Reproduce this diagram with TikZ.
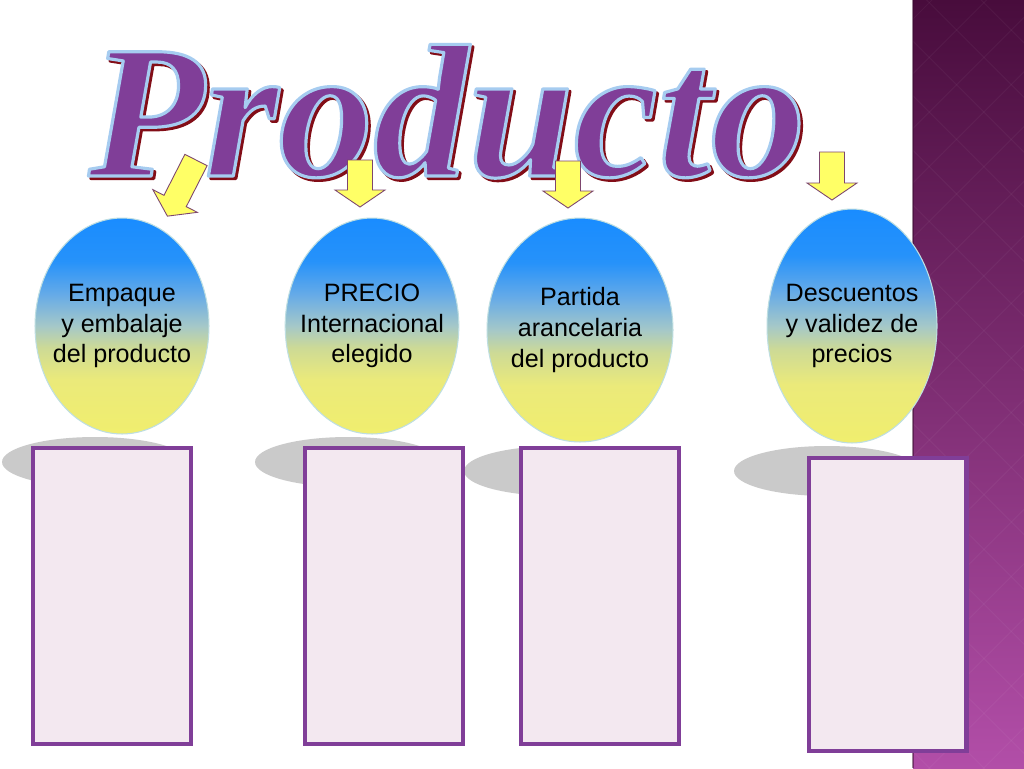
\documentclass[tikz,border=0pt]{standalone}
\usepackage{fontspec}
\setmainfont{Liberation Sans}
\newfontfamily\titulofont{Liberation Serif}
\usetikzlibrary{shapes.geometric,patterns.meta}

\definecolor{morado}{RGB}{128,62,152}
\definecolor{celesteborde}{RGB}{165,205,240}
\definecolor{rojosombra}{RGB}{130,12,24}
\definecolor{amarillo}{RGB}{255,255,102}
\definecolor{bordeflecha}{RGB}{125,70,110}
\definecolor{rosa}{RGB}{243,232,240}
\definecolor{gris}{RGB}{202,202,202}
\definecolor{bordeburbuja}{RGB}{190,222,225}
\definecolor{franjaarriba}{RGB}{72,12,60}
\definecolor{franjaabajo}{RGB}{178,78,168}
\definecolor{gb0}{RGB}{240,238,110}
\definecolor{gb1}{RGB}{235,234,122}
\definecolor{gb2}{RGB}{205,218,150}
\definecolor{gb3}{RGB}{165,200,200}
\definecolor{gb4}{RGB}{100,170,232}
\definecolor{gb5}{RGB}{38,146,250}
\definecolor{gb6}{RGB}{25,140,255}

\pgfdeclareverticalshading{degradado}{100bp}{color(0bp)=(gb0); color(25bp)=(gb0);
  color(37.5bp)=(gb1); color(45bp)=(gb2); color(50bp)=(gb3); color(57.5bp)=(gb4);
  color(65bp)=(gb5); color(75bp)=(gb6); color(100bp)=(gb6)}

% texto relleno y con contorno (modo 2 de PDF)
\newcommand{\contorno}[2]{%
  \special{pdf:literal direct q 2 Tr 1.8 w 1 j #1 RG}#2\special{pdf:literal direct Q}}

\begin{document}
\begin{tikzpicture}[x=0.02cm,y=-0.02cm]

        % Estilos:
        \tikzstyle{titulo} = [anchor=base, inner sep=0pt,
        font=\titulofont\bfseries\itshape\fontsize{108}{110}\selectfont]
        \tikzstyle{burbuja} = [ellipse, draw=bordeburbuja, line width=0.6pt,
        shade, shading=degradado, align=center, inner ysep=0pt, inner xsep=-6pt,
        font=\fontsize{14.3}{17.4}\selectfont]
        \tikzstyle{sombra} = [ellipse, fill=gris, inner sep=0pt,
        minimum width=3.72cm, minimum height=1cm]
        \tikzstyle{caja} = [rectangle, draw=morado, line width=2.3pt, fill=rosa,
        inner sep=0pt, minimum width=3.16cm]
        \tikzstyle{flecha} = [fill=amarillo, draw=bordeflecha, line width=0.5pt]

        \newcommand{\burbuja}[3]{node (e#1) [burbuja,#3] {#2}}
        \newcommand{\caja}[2]{node (c#1) [caja,#2] {}}

        % Flecha amarilla: x, y de la cola, giro, largo
        \newcommand{\flecha}[4]{%
        \begin{scope}[shift={(#1,#2)}, rotate=#3]
            \path[flecha] (-12.5,0) -- (12.5,0) -- (12.5,#4-17) -- (25,#4-17)
            -- (0,#4) -- (-25,#4-17) -- (-12.5,#4-17) -- cycle;
        \end{scope}}

        % Fondo:
        \useasboundingbox (0,0) rectangle (1024,768);
        \fill[white] (0,0) rectangle (1024,768);
        \shade[top color=franjaarriba, bottom color=franjaabajo]
        (913,0) rectangle (1024,768);
        \fill[pattern={Lines[angle=45,distance=22pt,line width=0.6pt]},
        pattern color=white, opacity=0.04] (913,0) rectangle (1024,768);
        \fill[pattern={Lines[angle=-45,distance=22pt,line width=0.6pt]},
        pattern color=white, opacity=0.04] (913,0) rectangle (1024,768);
        \draw[franjaarriba!80!black, opacity=0.5, line width=0.8pt] (913,0) -- (913,768);

        % Titulo:
        \node[titulo, text=rojosombra] (sombratit) at (449.5,178.5)
        {\contorno{0.51 0.05 0.09}{Producto}};
        \node[titulo, text=morado] (tit) at (447,176)
        {\contorno{0.65 0.80 0.94}{Producto}};

        % Flechas:
        \flecha{196}{160}{-27}{63}
        \flecha{360}{160}{0}{47}
        \flecha{568}{161}{0}{47}
        \flecha{832}{152}{0}{48}

        % Sombras:
        \node[sombra] (s1) at (95,462) {};
        \node[sombra] (s2) at (348,462) {};
        \node[sombra] (s3) at (557,471) {};
        \node[sombra] (s4) at (827,471) {};

        % Burbujas:
        \path (122,326) \burbuja{1}{Empaque\\ y embalaje\\ del producto}
        {minimum width=3.48cm, minimum height=4.32cm};
        \path (372,326) \burbuja{2}{PRECIO\\ Internacional\\ elegido}
        {minimum width=3.4cm, minimum height=4.32cm};
        \path (580,330) \burbuja{3}{Partida\\ arancelaria\\ del producto}
        {minimum width=3.72cm, minimum height=4.48cm};
        \path (852,326) \burbuja{4}{Descuentos\\ y validez de\\ precios}
        {minimum width=3.4cm, minimum height=4.68cm};

        % Cajas:
        \path (112,596) \caja{1}{minimum height=5.92cm};
        \path (384,596) \caja{2}{minimum height=5.92cm};
        \path (600,596) \caja{3}{minimum height=5.92cm};
        \path (887.5,604.5) \caja{4}{minimum height=5.86cm};
\end{tikzpicture}
\end{document}
